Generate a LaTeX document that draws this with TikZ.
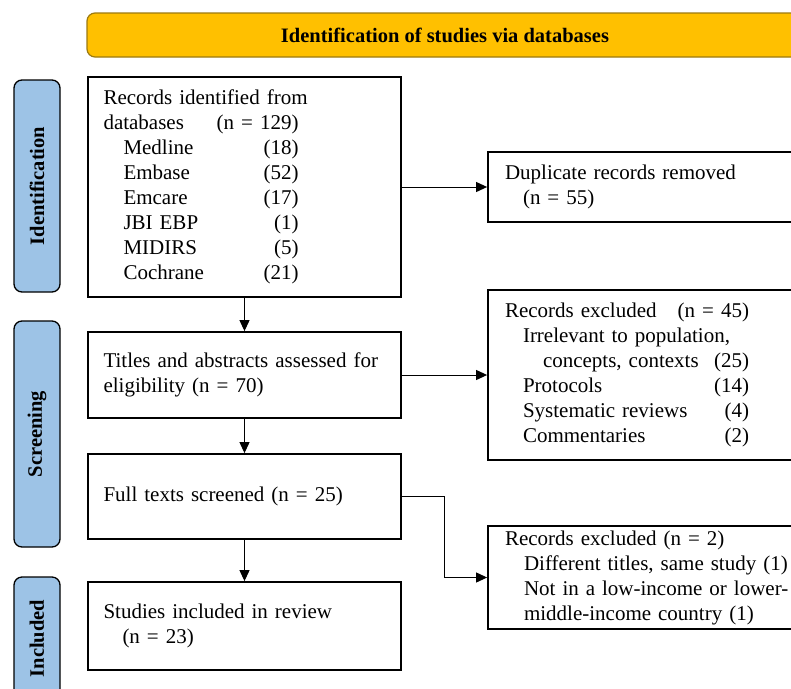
\documentclass[tikz,border=0pt]{standalone}
\usepackage{fontspec}
\setmainfont{Liberation Serif}
\usetikzlibrary{arrows.meta}
\definecolor{hdrfill}{HTML}{FFC000}
\definecolor{hdrdraw}{HTML}{9C7A10}
\definecolor{sidefill}{HTML}{9DC3E6}
\newcommand{\rw}[2]{\makebox[#1][l]{#2}}
\begin{document}
\begin{tikzpicture}[x=1pt,y=-1pt,
  box/.style={draw=black,line width=1.8pt,rectangle,inner xsep=15.5pt,inner ysep=0pt,
    align=left,font=\fontsize{21}{25}\selectfont},
  rbox/.style={box,inner xsep=17pt,text width=288pt,minimum width=322pt},
  lbox/.style={box,text width=282pt,minimum width=313pt},
  side/.style={draw=black,line width=1.3pt,fill=sidefill,rounded corners=8pt,rotate=90,
    minimum height=46pt,inner sep=0pt,font=\fontsize{20.5}{24}\selectfont\bfseries},
  hdr/.style={draw=hdrdraw,line width=1.2pt,fill=hdrfill,rounded corners=8pt,
    minimum width=716pt,minimum height=44pt,inner sep=0pt,font=\fontsize{20.5}{24}\selectfont\bfseries},
  arr/.style={line width=1pt,-{Triangle[length=11pt,width=10pt]}}
]
\path[use as bounding box] (0,0) rectangle (791,688);
\clip (0,0) rectangle (791,688);

\node[hdr] (hdr) at (445,35) {Identification of studies via databases};

\node[side,minimum width=212pt] (sid) at (37,186) {Identification};
\node[side,minimum width=226pt] (sscr) at (37,434) {Screening};
\node[side,minimum width=123pt] (sinc) at (37,638.5) {Included};

\node[lbox,minimum height=220pt] (rec) at (244.5,187) {Records identified from\\
\rw{195pt}{databases\hfill(n = 129)}\\
\rw{195pt}{\hspace*{20pt}Medline\hfill(18)}\\
\rw{195pt}{\hspace*{20pt}Embase\hfill(52)}\\
\rw{195pt}{\hspace*{20pt}Emcare\hfill(17)}\\
\rw{195pt}{\hspace*{20pt}JBI EBP\hfill(1)}\\
\rw{195pt}{\hspace*{20pt}MIDIRS\hfill(5)}\\
\rw{195pt}{\hspace*{20pt}Cochrane\hfill(21)}};

\node[lbox,minimum height=86pt] (tit) at (244.5,375) {Titles and abstracts assessed for\\eligibility (n = 70)};
\node[lbox,minimum height=85pt] (full) at (244.5,496.5) {Full texts screened (n = 25)};
\node[lbox,minimum height=88pt] (stud) at (244.5,626) {Studies included in review\\\hspace*{19pt}(n = 23)};

\node[rbox,minimum height=70pt] (dup) at (649,187) {Duplicate records removed\\\hspace*{18pt}(n = 55)};
\node[rbox,minimum height=170pt] (exa) at (649,375) {\rw{244pt}{Records excluded\hfill(n = 45)}\\
\rw{244pt}{\hspace*{18pt}Irrelevant to population,}\\
\rw{244pt}{\hspace*{38pt}concepts, contexts\hfill(25)}\\
\rw{244pt}{\hspace*{18pt}Protocols\hfill(14)}\\
\rw{244pt}{\hspace*{18pt}Systematic reviews\hfill(4)}\\
\rw{244pt}{\hspace*{18pt}Commentaries\hfill(2)}};
\node[rbox,minimum height=103pt] (exb) at (649,577.5) {Records excluded (n = 2)\\
\hspace*{19pt}Different titles, same study (1)\\
\hspace*{19pt}Not in a low-income or lower-\\
\hspace*{19pt}middle-income country (1)};

\coordinate (elbow) at (444,0);
\draw[arr] (rec.east) -- (rec.east -| dup.west);
\draw[arr] (rec.south) -- (tit.north);
\draw[arr] (tit.east) -- (tit.east -| exa.west);
\draw[arr] (tit.south) -- (full.north);
\draw[arr] (full.east) -- (full.east -| elbow) |- (exb.west);
\draw[arr] (full.south) -- (stud.north);
\end{tikzpicture}
\end{document}
